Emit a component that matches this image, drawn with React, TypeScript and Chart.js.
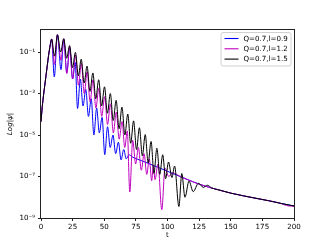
import { useEffect, useRef } from 'react';
import { Chart, registerables } from 'chart.js';

Chart.register(...registerables);

const seriesLabels = ['Q=0.7,l=0.9', 'Q=0.7,l=1.2', 'Q=0.7,l=1.5'];
const seriesColors = ['#0000ff', '#bf00bf', '#000000'];

const tBlue = [0, 1, 2, 3, 4, 5, 6, 7, 8.4,
  10.5, 13, 15.8, 18, 20.4, 22.7, 25, 27, 28.9, 31.1,
  33.2, 35.4, 37.5, 39.7, 41.8, 44, 46.1, 48.3, 50.4, 52.6,
  54.7, 56.9, 59, 61.2, 63.3, 65.4, 67.4, 69.5, 72, 80,
  90, 100, 110, 120, 130, 140, 150, 160, 170, 180,
  190, 200];
const psiBlue = [4.4e-5, 2.3e-4, 8.3e-4, 2.5e-3, 7.6e-3, 2.3e-2, 6.9e-2, 0.17, 0.42,
  6.3e-3, 0.68, 1.41e-2, 0.4, 1.0e-2, 0.158, 5.0e-3, 3.16e-2, 1.9e-4, 5.0e-3,
  2.5e-4, 1.58e-3, 7.9e-5, 5.6e-4, 1.0e-5, 2.0e-4, 1.26e-5, 7.1e-5, 1.12e-6, 2.5e-5,
  2.5e-6, 1.0e-5, 1.26e-6, 4.5e-6, 6.3e-7, 2.0e-6, 7.1e-7, 1.12e-6, 8.9e-7, 5.6e-7,
  3.2e-7, 1.78e-7, 1.0e-7, 5.6e-8, 3.4e-8, 2.3e-8, 1.58e-8, 1.17e-8, 8.9e-9, 6.8e-9,
  5.0e-9, 3.8e-9];

const tMagenta = [0, 1, 2, 3, 4, 5, 6, 7, 8.4,
  10.6, 13, 15.8, 18, 20.4, 22.7, 25, 27.3, 29.6, 31.9,
  34.2, 36.5, 38.8, 41.1, 43.4, 45.7, 48, 50.3, 52.6, 54.9,
  57.2, 59.5, 61.8, 64.1, 66.2, 68.2, 70.2, 72.5, 74.8, 77,
  79.3, 81.5, 83.6, 85.6, 87.5, 88.8, 90.1, 92.5, 95.5, 98,
  101, 104, 110, 120, 130, 140, 150, 160, 170, 180,
  188, 192, 196, 200];
const psiMagenta = [4.4e-5, 2.3e-4, 8.3e-4, 2.5e-3, 7.6e-3, 2.3e-2, 6.9e-2, 0.17, 0.42,
  2.51e-2, 0.68, 3.98e-2, 0.43, 9.1e-3, 0.178, 5.0e-3, 7.08e-2, 2.5e-3, 2.82e-2,
  1.0e-3, 1.12e-2, 4.0e-4, 4.5e-3, 2.0e-4, 1.78e-3, 7.9e-5, 7.1e-4, 3.2e-5, 3.2e-4,
  1.26e-5, 1.26e-4, 6.3e-6, 4.5e-5, 2.5e-6, 1.58e-5, 1.78e-8, 5.6e-6, 4.0e-7, 2.5e-6,
  2.0e-7, 1.26e-6, 1.26e-7, 7.1e-7, 6.3e-8, 3.5e-7, 7.1e-8, 4.0e-7, 2.5e-9, 2.5e-7,
  1.0e-7, 1.5e-7, 1.0e-7, 5.6e-8, 3.4e-8, 2.3e-8, 1.58e-8, 1.17e-8, 8.9e-9, 6.8e-9,
  5.4e-9, 4.4e-9, 3.8e-9, 3.7e-9];

const tBlack = [0, 1, 2, 3, 4, 5, 6, 7, 8.4,
  10.7, 13, 15.5, 18, 20.3, 22.6, 24.9, 27.2, 29.5, 31.8,
  34.1, 36.4, 38.7, 41, 43.3, 45.6, 47.9, 50.2, 52.5, 54.8,
  57.1, 59.4, 61.7, 64, 66.3, 68.6, 70.9, 73.2, 75.5, 77.8,
  80.1, 82.4, 84.7, 87, 89.3, 91.6, 93.9, 96.2, 98.5, 100.8,
  103.5, 105.6, 109, 111.3, 113.8, 117, 120.3, 124.5, 128.3, 131.5,
  135, 140, 150, 160, 170, 180, 190, 200];
const psiBlack = [4.4e-5, 2.3e-4, 8.3e-4, 2.5e-3, 7.6e-3, 2.3e-2, 6.9e-2, 0.17, 0.42,
  6.3e-2, 0.68, 0.1, 0.44, 5.0e-2, 0.204, 1.78e-2, 9.55e-2, 7.1e-3, 4.47e-2,
  3.2e-3, 2.09e-2, 1.26e-3, 9.8e-3, 5.6e-4, 4.6e-3, 2.5e-4, 2.1e-3, 1.12e-4, 1.0e-3,
  5.0e-5, 4.7e-4, 2.0e-5, 2.2e-4, 1.0e-5, 1.02e-4, 4.0e-6, 4.8e-5, 2.0e-6, 2.24e-5,
  1.0e-6, 1.05e-5, 4.5e-7, 4.9e-6, 1.4e-7, 2.3e-6, 1.26e-7, 1.12e-6, 7.9e-8, 5.0e-7,
  8.9e-8, 3.2e-7, 3.6e-9, 1.4e-7, 1.0e-8, 6.0e-8, 1.86e-8, 4.7e-8, 3.0e-8, 3.8e-8,
  2.8e-8, 2.3e-8, 1.58e-8, 1.17e-8, 8.9e-9, 6.8e-9, 5.0e-9, 3.8e-9];

const xTickValues = [0, 25, 50, 75, 100, 125, 150, 175, 200];
const yTickValues = [1e-9, 1e-7, 1e-5, 1e-3, 1e-1];
const yTickLabels = ['10⁻⁹', '10⁻⁷', '10⁻⁵', '10⁻³', '10⁻¹'];
const xTitle = 't';
const yTitle = 'Log|ψ|';

const FONT = 'DejaVu Sans';
const FS = 7.1;

const framePlugin = {
  id: 'frame',
  afterDatasetsDraw(chart: any) {
    const { ctx, chartArea } = chart;
    const l = Math.round(chartArea.left), t = Math.round(chartArea.top);
    const r = Math.round(chartArea.right), b = Math.round(chartArea.bottom);
    ctx.save();
    ctx.strokeStyle = '#222';
    ctx.lineWidth = 1;
    ctx.strokeRect(l - 0.5, t - 0.5, r - l + 1, b - t + 1);
    ctx.restore();
  },
};

const legendPlugin = {
  id: 'boxLegend',
  afterDraw(chart: any) {
    const { ctx } = chart;
    const x0 = 221, y0 = 32.5, w = 70, h = 33.5, rad = 2;
    ctx.save();
    ctx.beginPath();
    ctx.moveTo(x0 + rad, y0);
    ctx.lineTo(x0 + w - rad, y0);
    ctx.quadraticCurveTo(x0 + w, y0, x0 + w, y0 + rad);
    ctx.lineTo(x0 + w, y0 + h - rad);
    ctx.quadraticCurveTo(x0 + w, y0 + h, x0 + w - rad, y0 + h);
    ctx.lineTo(x0 + rad, y0 + h);
    ctx.quadraticCurveTo(x0, y0 + h, x0, y0 + h - rad);
    ctx.lineTo(x0, y0 + rad);
    ctx.quadraticCurveTo(x0, y0, x0 + rad, y0);
    ctx.closePath();
    ctx.fillStyle = 'rgba(255,255,255,0.8)';
    ctx.fill();
    ctx.strokeStyle = '#d0d0d0';
    ctx.lineWidth = 1;
    ctx.stroke();
    ctx.font = `${FS}px "${FONT}"`;
    ctx.textBaseline = 'middle';
    ctx.textAlign = 'left';
    chart.data.datasets.forEach((ds: any, i: number) => {
      const y = 38.5 + i * 10.3;
      ctx.beginPath();
      ctx.strokeStyle = ds.borderColor;
      ctx.lineWidth = 1.1;
      ctx.moveTo(224.5, y);
      ctx.lineTo(238.5, y);
      ctx.stroke();
      ctx.fillStyle = '#000';
      ctx.fillText(ds.label, 243.5, y + 0.5);
    });
    ctx.restore();
  },
};

function pts(t: number[], v: number[]) {
  return t.map((x, i) => ({ x, y: v[i] }));
}

export default function App() {
  const ref = useRef<HTMLCanvasElement>(null);
  useEffect(() => {
    document.body.style.margin = '0';
    const seriesT = [tBlue, tMagenta, tBlack];
    const seriesV = [psiBlue, psiMagenta, psiBlack];
    const chart = new Chart(ref.current as HTMLCanvasElement, {
      type: 'line',
      data: {
        datasets: seriesLabels.map((label, i) => ({
          label,
          data: pts(seriesT[i], seriesV[i]),
          borderColor: seriesColors[i],
          backgroundColor: seriesColors[i],
          borderWidth: 1,
          pointRadius: 0,
          cubicInterpolationMode: 'monotone' as const,
          fill: false,
          order: 3 - i,
        })),
      },
      options: {
        animation: false,
        responsive: false,
        devicePixelRatio: 1,
        layout: { padding: { left: 0, top: 30, right: 33, bottom: 0 } },
        plugins: { legend: { display: false }, tooltip: { enabled: false } },
        scales: {
          x: {
            type: 'linear',
            min: 0,
            max: 200,
            afterFit: (s: any) => { s.height = 27; },
            afterBuildTicks: (s: any) => { s.ticks = xTickValues.map((value) => ({ value })); },
            ticks: {
              autoSkip: false,
              maxRotation: 0,
              padding: 2,
              color: '#000',
              font: { family: FONT, size: FS },
              callback: (v: any) => String(v),
            },
            grid: { display: true, drawOnChartArea: false, drawTicks: true, tickLength: 3, color: '#222', lineWidth: 1 },
            border: { display: false },
            title: { display: true, text: xTitle, color: '#000', font: { family: FONT, size: FS }, padding: { top: 0, bottom: 5.5 } },
          },
          y: {
            type: 'logarithmic',
            min: 1e-9,
            max: 1.15,
            afterFit: (s: any) => { s.width = 41; },
            afterBuildTicks: (s: any) => { s.ticks = yTickValues.map((value) => ({ value })); },
            ticks: {
              autoSkip: false,
              padding: 3,
              color: '#000',
              font: { family: FONT, size: FS },
              callback: (v: any) => {
                const idx = yTickValues.findIndex((tv) => Math.abs(Math.log10(tv) - Math.log10(v)) < 1e-6);
                return idx >= 0 ? yTickLabels[idx] : '';
              },
            },
            grid: { display: true, drawOnChartArea: false, drawTicks: true, tickLength: 3, color: '#222', lineWidth: 1 },
            border: { display: false },
            title: { display: true, text: yTitle, color: '#000', font: { family: FONT, size: FS, style: 'italic' }, padding: { top: 5.5, bottom: 0 } },
          },
        },
      },
      plugins: [framePlugin, legendPlugin],
    } as any);
    return () => chart.destroy();
  }, []);
  return (
    <div style={{ width: 327, height: 245 }}>
      <canvas ref={ref} width={327} height={245} style={{ display: 'block' }} />
    </div>
  );
}
